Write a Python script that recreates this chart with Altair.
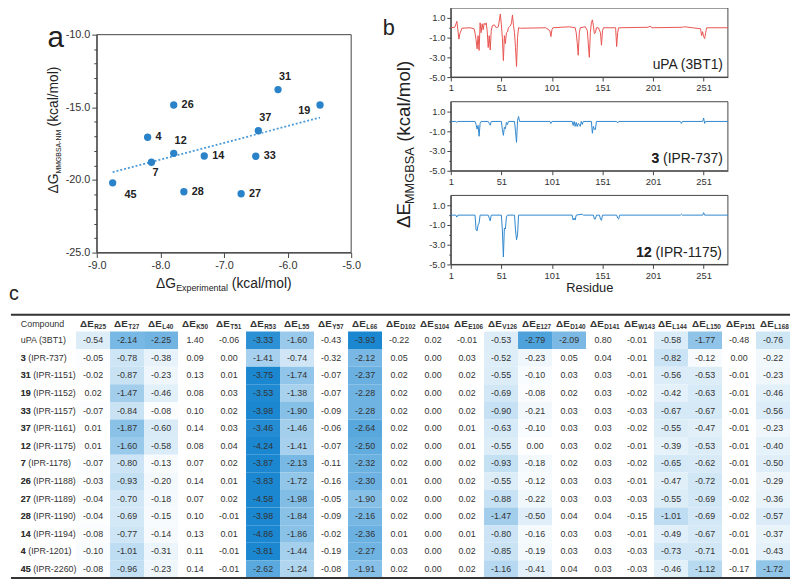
import altair as alt
import pandas as pd

FONT = "Liberation Sans"
INK = "#222222"
MINUS = "\u2212"

# ---------------- panel a data ----------------
a_ids = ["45", "7", "4", "26", "12", "28", "14", "27", "33", "37", "31", "19"]
a_exp = [-8.75, -8.14, -8.20, -7.79, -7.79, -7.63, -7.31, -6.73, -6.50, -6.46, -6.15, -5.49]
a_calc = [-20.2, -18.78, -17.06, -14.84, -18.17, -20.81, -18.35, -20.95, -18.37, -16.61, -13.78, -14.84]
a_side = ["belowright", "below", "right", "right", "above", "right", "right", "right", "right", "above", "above", "left"]

# ---------------- panel b data ----------------
upa_res = [1, 5, 7, 8, 9, 10, 12, 20, 24, 25, 26, 27, 28, 29, 30, 31, 32, 33, 34, 35, 36, 37, 38, 39, 40, 41, 42, 44,
           46, 48, 50, 51, 52, 53, 54, 55, 56, 57, 58, 60, 61, 62, 63, 64, 65, 66, 67, 68, 70, 95, 99, 100, 101, 102,
           110, 118, 124, 125, 126, 127, 128, 129, 134, 136, 138, 139, 140, 141, 142, 143, 144, 145, 147, 149, 150,
           151, 152, 164, 165, 166, 167, 196, 198, 200, 230, 232, 240, 248, 249, 250, 251, 252, 253, 254, 275]
upa_val = [0.0, 0.05, 0.65, -0.2, -1.15, -0.6, -0.05, 0.0, -0.1, -0.55, -1.2, -2.14, -0.8, -2.3, 0.5, -0.5, 0.4, -0.2,
           0.45, 0.3, 0.5, -0.3, -2.0, -0.8, -2.25, -0.3, 0.2, 0.3, 0.0, 0.1, 1.40, 0.3, -1.0, -3.33, -0.8, -1.60,
           -0.5, -0.43, 0.0, 0.2, 0.5, 1.3, 0.2, -0.5, -2.0, -3.93, -1.0, 0.0, -0.05, 0.0, -0.3, -0.9, -0.2, 0.0,
           0.05, 0.1, 0.0, -0.5, -1.5, -2.79, -0.6, 0.0, 0.1, -0.3, -3.0, -0.5, 0.5, 0.8, 0.2, -0.6, -0.5, 0.0, 0.0,
           -0.5, -1.77, -0.3, 0.0, 0.0, -1.9, -0.5, 0.0, 0.05, 0.15, 0.0, 0.05, 0.1, 0.0, -0.1, -0.8, -0.4, -0.9,
           -1.1, -0.5, 0.0, 0.0]

c3_res = [1, 6, 7, 8, 25, 26, 27, 28, 29, 30, 31, 38, 39, 40, 41, 51, 52, 53, 54, 55, 56, 57, 58, 64, 65, 66, 67, 68,
          69, 99, 100, 101, 121, 122, 123, 124, 125, 126, 127, 128, 129, 130, 131, 132, 140, 141, 142, 143, 144, 145,
          165, 166, 167, 228, 229, 230, 250, 251, 252, 253, 275]
c3_val = [0.0, 0.0, -0.1, 0.0, 0.0, -0.3, -0.78, -0.4, -1.5, -0.2, 0.0, 0.0, -0.2, -0.38, 0.0, 0.0, -0.8, -1.41, -0.6,
          -0.74, -0.1, -0.32, 0.0, 0.0, -1.0, -2.12, 0.1, 0.5, 0.0, 0.0, -0.2, 0.0, 0.0, -0.4, 0.0, -0.5, -0.1, -0.52,
          -0.2, -0.3, -0.5, 0.0, -0.3, 0.0, 0.0, -1.2, -0.5, -0.8, -0.82, 0.0, 0.0, -0.15, 0.0, 0.0, -0.2, 0.0, 0.0,
          0.35, -0.2, 0.0, 0.0]

c12_res = [1, 6, 7, 8, 25, 26, 27, 28, 29, 30, 38, 39, 40, 41, 51, 52, 53, 54, 55, 56, 57, 64, 65, 66, 67, 68, 121,
           122, 123, 124, 125, 131, 132, 142, 143, 144, 145, 148, 149, 150, 151, 165, 166, 167, 168, 228, 229, 230,
           250, 251, 252, 275]
c12_val = [0.0, 0.0, -0.2, 0.0, 0.0, -1.5, -1.60, -1.0, -0.8, 0.0, 0.0, -0.3, -0.58, 0.0, 0.0, -1.5, -4.24, -1.3,
           -1.41, -0.2, 0.0, 0.0, -1.5, -2.50, -2.0, 0.0, 0.0, -0.5, -0.3, -0.5, 0.0, 0.1, 0.0, 0.0, -0.4, -0.39, 0.0,
           0.0, -0.4, -0.53, 0.0, 0.0, -0.3, -0.4, 0.0, 0.0, 0.1, 0.0, 0.0, 0.25, 0.0, 0.0]

# ---------------- panel c data ----------------
residues = ["R25", "T27", "L40", "K50", "T51", "R53", "L55", "Y57", "L66", "D102", "S104", "E106", "V126", "E127",
            "D140", "D141", "W143", "L144", "L150", "P151", "L168"]
shaded_residues = ["R25", "T27", "L40", "R53", "L55", "L66", "V126", "E127", "D140", "L144", "L150", "L168"]
cmpd_num = ["", "3", "31", "19", "33", "37", "12", "7", "26", "27", "28", "14", "4", "45"]
cmpd_name = ["uPA (3BT1)", "(IPR-737)", "(IPR-1151)", "(IPR-1152)", "(IPR-1157)", "(IPR-1161)", "(IPR-1175)",
             "(IPR-1178)", "(IPR-1188)", "(IPR-1189)", "(IPR-1190)", "(IPR-1194)", "(IPR-1201)", "(IPR-2260)"]
energies = [
    [-0.54, -2.14, -2.25, 1.40, -0.06, -3.33, -1.60, -0.43, -3.93, -0.22, 0.02, -0.01, -0.53, -2.79, -2.09, 0.80, -0.01, -0.58, -1.77, -0.48, -0.76],
    [-0.05, -0.78, -0.38, 0.09, 0.00, -1.41, -0.74, -0.32, -2.12, 0.05, 0.00, 0.03, -0.52, -0.23, 0.05, 0.04, -0.01, -0.82, -0.12, 0.00, -0.22],
    [-0.02, -0.87, -0.23, 0.13, 0.01, -3.75, -1.74, -0.07, -2.37, 0.02, 0.00, 0.02, -0.55, -0.10, 0.03, 0.03, -0.01, -0.56, -0.53, -0.01, -0.23],
    [0.02, -1.47, -0.46, 0.08, 0.03, -3.53, -1.38, -0.07, -2.28, 0.02, 0.00, 0.02, -0.69, -0.08, 0.02, 0.03, -0.02, -0.42, -0.63, -0.01, -0.46],
    [-0.07, -0.84, -0.08, 0.10, 0.02, -3.98, -1.90, -0.09, -2.28, 0.02, 0.00, 0.02, -0.90, -0.21, 0.03, 0.03, -0.03, -0.67, -0.67, -0.01, -0.56],
    [0.01, -1.87, -0.60, 0.14, 0.03, -3.46, -1.46, -0.06, -2.64, 0.02, 0.00, 0.01, -0.63, -0.10, 0.03, 0.03, -0.02, -0.55, -0.47, -0.01, -0.23],
    [0.01, -1.60, -0.58, 0.08, 0.04, -4.24, -1.41, -0.07, -2.50, 0.02, 0.00, 0.01, -0.55, 0.00, 0.03, 0.02, -0.01, -0.39, -0.53, -0.01, -0.40],
    [-0.07, -0.80, -0.13, 0.07, 0.02, -3.87, -2.13, -0.11, -2.32, 0.02, 0.00, 0.02, -0.93, -0.18, 0.02, 0.03, -0.02, -0.65, -0.62, -0.01, -0.50],
    [-0.03, -0.93, -0.20, 0.14, 0.01, -3.83, -1.72, -0.16, -2.30, 0.01, 0.00, 0.02, -0.55, -0.12, 0.03, 0.03, -0.01, -0.47, -0.72, -0.01, -0.29],
    [-0.04, -0.70, -0.18, 0.07, 0.02, -4.58, -1.98, -0.05, -1.90, 0.02, 0.00, 0.02, -0.88, -0.22, 0.03, 0.03, -0.03, -0.55, -0.69, -0.02, -0.36],
    [-0.04, -0.69, -0.15, 0.10, -0.01, -3.98, -1.84, -0.09, -2.16, 0.02, 0.00, 0.02, -1.47, -0.50, 0.04, 0.04, -0.15, -1.01, -0.69, -0.02, -0.57],
    [-0.08, -0.77, -0.14, 0.13, 0.01, -4.86, -1.86, -0.02, -2.36, 0.01, 0.00, 0.01, -0.80, -0.16, 0.03, 0.03, -0.01, -0.49, -0.67, -0.01, -0.37],
    [-0.10, -1.01, -0.31, 0.11, -0.01, -3.81, -1.44, -0.19, -2.27, 0.03, 0.00, 0.02, -0.85, -0.19, 0.03, 0.03, -0.03, -0.73, -0.71, -0.01, -0.43],
    [-0.08, -0.96, -0.23, 0.14, -0.01, -2.62, -1.24, -0.08, -1.91, 0.02, 0.00, 0.02, -1.16, -0.41, 0.04, 0.03, -0.03, -0.46, -1.12, -0.17, -1.72],
]

ONE = alt.Data(values=[{}])


def note(text, x, y, size, weight="normal", angle=0, align="left", color=INK):
    return alt.Chart(ONE).mark_text(
        text=text, fontSize=size, fontWeight=weight, angle=angle, align=align,
        baseline="alphabetic", font=FONT, color=color
    ).encode(x=alt.value(x), y=alt.value(y))


def frame(x0, x1, y0, y1):
    return alt.Chart(ONE).mark_rect(fillOpacity=0, stroke="#444444", strokeWidth=1).encode(
        x=alt.value(x0), x2=alt.value(x1), y=alt.value(y0), y2=alt.value(y1))


def fmt(expr, spec):
    return "replace(format(" + expr + ", '" + spec + "'), '" + MINUS + "', '-')"


# ================= panel a =================
AW, AH, ATOP = 258, 248, 27
dfa = pd.DataFrame({"id": a_ids, "exp": a_exp, "calc": a_calc, "side": a_side})
xa = alt.X("exp:Q", scale=alt.Scale(domain=[-9, -5], nice=False, zero=False),
           axis=alt.Axis(values=[-9, -8, -7, -6, -5], labelExpr=fmt("datum.value", ".1f"), title=None,
                         labelFontSize=11, tickSize=5, labelPadding=2, labelFlush=False, labelOverlap=False))
ya = alt.Y("calc:Q", scale=alt.Scale(domain=[-25, -10], range=[AH, ATOP], nice=False, zero=False),
           axis=alt.Axis(values=list(range(-25, -9)),
                         labelExpr="datum.value % 5 == 0 ? " + fmt("datum.value", ".1f") + " : ''",
                         tickSize={"condition": {"test": "datum.value % 5 == 0", "value": 5}, "value": 3},
                         title=None, labelFontSize=11, labelPadding=2, labelOverlap=False))
basea = alt.Chart(dfa).encode(x=xa, y=ya)
pts = basea.mark_circle(size=55, opacity=1, color="#2A82C8")
fit = alt.Chart(dfa).transform_regression("exp", "calc").mark_line(
    color="#4D9BD8", strokeDash=[2, 2], strokeWidth=1.8).encode(x=xa, y=ya)

lab_style = dict(fontSize=11, fontWeight="bold", font=FONT, color=INK, baseline="middle")
labs = []
for side, al, dx, dy in [("right", "left", 8, 0), ("above", "center", 7, -13), ("below", "center", 4, 11),
                         ("belowright", "center", 18, 12), ("left", "center", -16, 6)]:
    labs.append(basea.transform_filter(alt.datum.side == side).mark_text(
        align=al, dx=dx, dy=dy, **lab_style).encode(text="id:N"))

panel_a = alt.layer(
    frame(0, AW, ATOP, AH), fit, pts, *labs,
    note("a", -50, 40, 30),
    note("ΔG", 60, 284, 14),
    note("Experimental", 80.5, 287, 9),
    note("(kcal/mol)", 137, 284, 14),
    note("ΔG", -39, 188, 14, angle=270),
    note("MMGBSA-NM", -36.5, 167.8, 7, angle=270),
    note("(kcal/mol)", -39, 120, 14, angle=270),
    note("c", -89, 296, 20),
    # panel b label and its shared y title (kept here so they do not push the b panels apart)
    note("b", 290, 27, 22),
    note("ΔE", 317.5, 223, 19, angle=270),
    note("MMGBSA", 321.5, 198.8, 13, angle=270),
    note("(kcal/mol)", 317.5, 135.7, 19, angle=270),
).properties(width=AW, height=AH)

# ================= panel b =================
BW, BH = 281, 70


def bpanel(res, val, color, show_title, extra):
    df = pd.DataFrame({"res": res, "val": val})
    xb = alt.X("res:Q", scale=alt.Scale(domain=[1, 275], nice=False, zero=False),
               axis=alt.Axis(values=[1, 51, 101, 151, 201, 251], format="d", labelFontSize=9.5,
                             tickSize=4, labelPadding=2, labelFlush=False, labelOverlap=False,
                             title="Residue" if show_title else None, titleFontSize=13,
                             titleFontWeight="normal", titlePadding=2, titleColor=INK))
    yb = alt.Y("val:Q", scale=alt.Scale(domain=[-5, 2], nice=False, zero=False),
               axis=alt.Axis(values=list(range(-5, 2)),
                             labelExpr="abs(datum.value) % 2 == 1 ? " + fmt("datum.value", ".1f") + " : ''",
                             tickSize={"condition": {"test": "abs(datum.value) % 2 == 1", "value": 4}, "value": 2},
                             title=None, labelFontSize=9.5, labelPadding=2, labelOverlap=False))
    line = alt.Chart(df).mark_line(color=color, strokeWidth=1, interpolate="linear").encode(x=xb, y=yb)
    return alt.layer(frame(0, BW, 0, BH), line, *extra).properties(width=BW, height=BH)


b1 = bpanel(upa_res, upa_val, "#E8534F", False, [
    note("uPA (3BT1)", 276, 62, 14, align="right"),
])
b2 = bpanel(c3_res, c3_val, "#2E86CE", False, [
    note("3 (IPR-737)", 203.6, 62, 14),
    note("3", 203.6, 62, 14, weight="bold"),
])
b3 = bpanel(c12_res, c12_val, "#2E86CE", True, [
    note("12 (IPR-1175)", 188.1, 62, 14),
    note("12", 188.1, 62, 14, weight="bold"),
])
panel_b = alt.vconcat(b1, b2, b3, spacing=8)

row1 = alt.hconcat(panel_a, panel_b, spacing=11)

# ================= panel c =================
HEAD, ROWH = 17, 17.85
NR = len(cmpd_num)
TW = 703
TH = HEAD + NR * ROWH
row_keys = [(n + " " + m).strip() for n, m in zip(cmpd_num, cmpd_name)]
recs = []
for i, key in enumerate(row_keys):
    for j, r in enumerate(residues):
        recs.append({"row": key, "col": r, "v": energies[i][j],
                     "shade": energies[i][j] if r in shaded_residues else 0.0})
dfc = pd.DataFrame(recs)
dfl = pd.DataFrame({"row": row_keys, "num": cmpd_num})
dfh = pd.DataFrame({"col": residues})

xc = alt.X("col:N", sort=residues, scale=alt.Scale(domain=residues, range=[-21, TW], paddingInner=0, paddingOuter=0),
           axis=None)
yc = alt.Y("row:N", sort=row_keys, scale=alt.Scale(domain=row_keys, range=[HEAD, TH], paddingInner=0, paddingOuter=0),
           axis=None)

cells = alt.Chart(dfc).mark_rect().encode(
    x=xc, y=yc,
    color=alt.Color("shade:Q", scale=alt.Scale(domain=[-3.6, 0], range=["#1B87D1", "#FFFFFF"], clamp=True,
                                               interpolate="rgb"), legend=None))
vals = alt.Chart(dfc).transform_calculate(txt=fmt("datum.v", ".2f")).mark_text(
    fontSize=9, font=FONT, color="#333333", baseline="middle").encode(x=xc, y=yc, text="txt:N")
names = alt.Chart(dfl).mark_text(fontSize=9, font=FONT, color="#333333", align="left", baseline="middle").encode(
    x=alt.value(-77), y=yc, text="row:N")
nums = alt.Chart(dfl).mark_text(fontSize=9, font=FONT, color="#333333", align="left", baseline="middle",
                                fontWeight="bold").encode(x=alt.value(-77), y=yc, text="num:N")
h_main = alt.Chart(dfh).mark_text(text="ΔE", fontSize=10, fontWeight="bold", font=FONT, color="#333333",
                                  align="right", dx=0.7, baseline="alphabetic").encode(x=xc, y=alt.value(12))
h_sub = alt.Chart(dfh).mark_text(fontSize=6.5, fontWeight="bold", font=FONT, color="#333333",
                                 align="left", dx=1.2, baseline="alphabetic").encode(x=xc, y=alt.value(14.5), text="col:N")
rule_top = alt.Chart(ONE).mark_rule(color="#333333", strokeWidth=2).encode(
    x=alt.value(-87), x2=alt.value(TW), y=alt.value(0))
rule_bot = alt.Chart(ONE).mark_rule(color="#333333", strokeWidth=2).encode(
    x=alt.value(-87), x2=alt.value(TW), y=alt.value(TH))

table = alt.layer(
    cells, vals, names, nums, h_main, h_sub, rule_top, rule_bot,
    note("Compound", -55, 12, 9, align="center", color="#333333"),
).properties(width=TW, height=TH)

chart = alt.vconcat(row1, table, spacing=8).properties(
    padding={"top": -5, "left": 0, "right": 0, "bottom": 0}).configure_view(
    stroke="transparent").configure_axis(
    labelFont=FONT, titleFont=FONT, labelColor="#333333", domainColor="#444444", tickColor="#444444", grid=False)

chart.save("out.html", embed_options={"renderer": "svg", "actions": False})
